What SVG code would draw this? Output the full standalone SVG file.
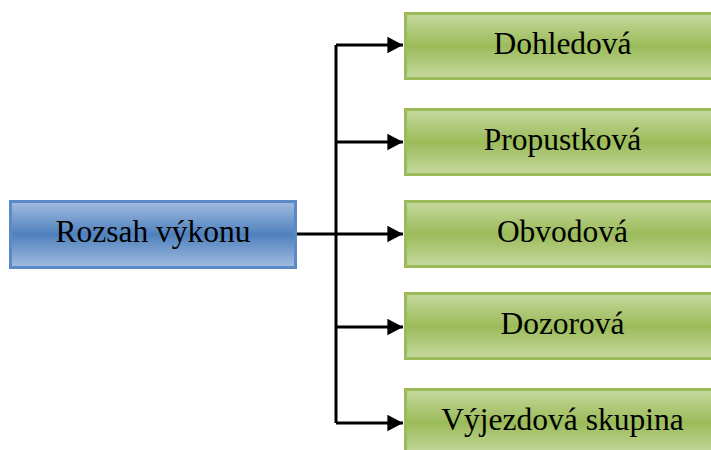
<svg xmlns="http://www.w3.org/2000/svg" width="711" height="450" viewBox="0 0 711 450">
  <defs>
    <linearGradient id="gBlue" x1="0" y1="0" x2="0" y2="1">
      <stop offset="0" stop-color="#a3bde0"/>
      <stop offset="0.5" stop-color="#4f81bd"/>
      <stop offset="1" stop-color="#a3bde0"/>
    </linearGradient>
    <linearGradient id="gGreen" x1="0" y1="0" x2="0" y2="1">
      <stop offset="0" stop-color="#c6d9a0"/>
      <stop offset="0.5" stop-color="#9bbb59"/>
      <stop offset="1" stop-color="#c6d9a0"/>
    </linearGradient>
    <marker id="arrow" markerWidth="6" markerHeight="6" refX="5.2" refY="2.75" orient="auto" markerUnits="strokeWidth">
      <path d="M0,0 L5.2,2.75 L0,5.5 Z" fill="#000"/>
    </marker>
  </defs>
  <style>
    .blue { fill: url(#gBlue); stroke: #5b8ac6; stroke-width: 3; }
    .green { fill: url(#gGreen); stroke: #9bbb59; stroke-width: 3; }
    .lbl { font-size: 31.5px; fill: #000; text-anchor: middle; }
    .conn { fill: none; stroke: #000; stroke-width: 3; }
  </style>
  <rect width="711" height="450" fill="#fff"/>
  <g id="connectors">
    <line class="conn" x1="297" y1="234" x2="403" y2="234" marker-end="url(#arrow)"/>
    <line class="conn" x1="336" y1="45" x2="336" y2="423"/>
    <polyline class="conn" points="336,45 403,45" marker-end="url(#arrow)"/>
    <polyline class="conn" points="336,142 403,142" marker-end="url(#arrow)"/>
    <polyline class="conn" points="336,327 403,327" marker-end="url(#arrow)"/>
    <polyline class="conn" points="336,423 403,423" marker-end="url(#arrow)"/>
  </g>
  <g font-family="Liberation Serif, Times New Roman, serif">
  <g id="rozsah">
    <rect class="blue" x="10.5" y="201.5" width="285" height="66"/>
    <text class="lbl" x="153" y="242">Rozsah výkonu</text>
  </g>
  <g id="dohledova">
    <rect class="green" x="405.5" y="13.5" width="318" height="65"/>
    <text class="lbl" x="562.5" y="54">Dohledová</text>
  </g>
  <g id="propustkova">
    <rect class="green" x="405.5" y="109.5" width="318" height="65"/>
    <text class="lbl" x="562.5" y="150">Propustková</text>
  </g>
  <g id="obvodova">
    <rect class="green" x="405.5" y="201.5" width="318" height="65"/>
    <text class="lbl" x="562.5" y="242">Obvodová</text>
  </g>
  <g id="dozorova">
    <rect class="green" x="405.5" y="293.5" width="318" height="65"/>
    <text class="lbl" x="562.5" y="334">Dozorová</text>
  </g>
  <g id="vyjezdova">
    <rect class="green" x="405.5" y="389.5" width="318" height="66"/>
    <text class="lbl" x="562.5" y="430">Výjezdová skupina</text>
  </g>
  </g>
</svg>
